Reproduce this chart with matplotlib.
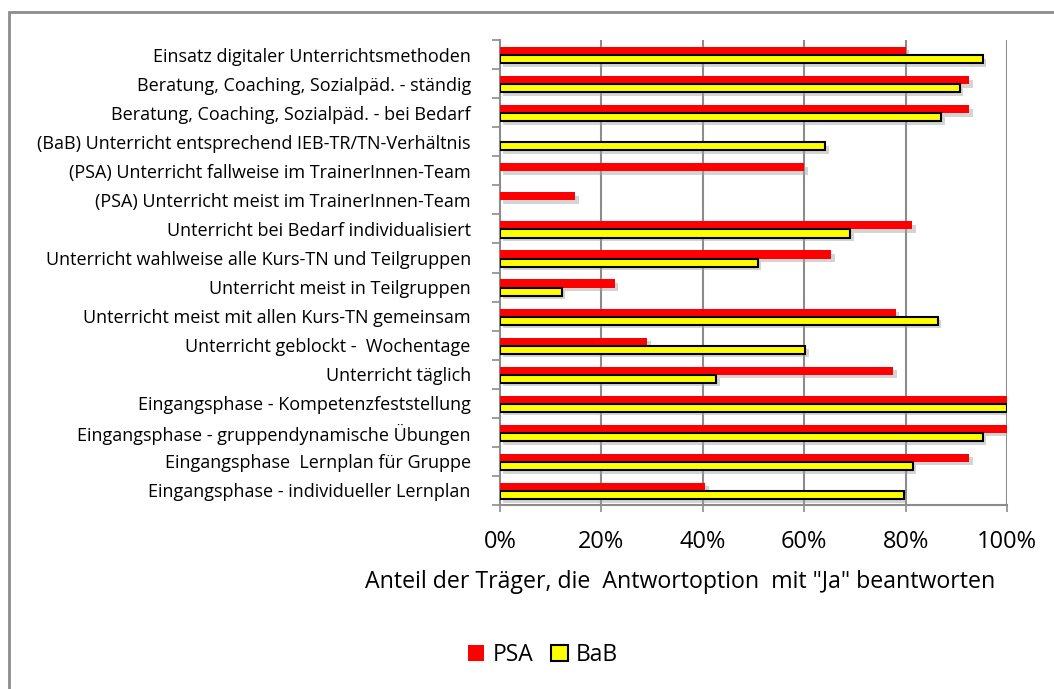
import numpy as np
import matplotlib
matplotlib.use("Agg")
import matplotlib.pyplot as plt
import matplotlib.patheffects as pe
from matplotlib.patches import Rectangle

plt.rcParams["font.family"] = ["Open Sans", "DejaVu Sans"]

# Top to bottom, as in the chart
CATEGORIES = [
    "Einsatz digitaler Unterrichtsmethoden",
    "Beratung, Coaching, Sozialpäd. - ständig",
    "Beratung, Coaching, Sozialpäd. - bei Bedarf",
    "(BaB) Unterricht entsprechend IEB-TR/TN-Verhältnis",
    "(PSA) Unterricht fallweise im TrainerInnen-Team",
    "(PSA) Unterricht meist im TrainerInnen-Team",
    "Unterricht bei Bedarf individualisiert",
    "Unterricht wahlweise alle Kurs-TN und Teilgruppen",
    "Unterricht meist in Teilgruppen",
    "Unterricht meist mit allen Kurs-TN gemeinsam",
    "Unterricht geblockt -  Wochentage",
    "Unterricht täglich",
    "Eingangsphase - Kompetenzfeststellung",
    "Eingangsphase - gruppendynamische Übungen",
    "Eingangsphase  Lernplan für Gruppe",
    "Eingangsphase - individueller Lernplan",
]
PSA = [0.80, 0.926, 0.926, np.nan, 0.60, 0.148, 0.813, 0.653, 0.226, 0.781,
       0.290, 0.776, 1.00, 1.00, 0.926, 0.405]
BAB = [0.952, 0.907, 0.870, 0.642, np.nan, np.nan, 0.691, 0.508, 0.122, 0.863,
       0.602, 0.427, 1.00, 0.952, 0.814, 0.796]
XTICKS = [0, 0.2, 0.4, 0.6, 0.8, 1.0]
XTICKLABELS = ["0%", "20%", "40%", "60%", "80%", "100%"]

GRID = "#8c8c8c"

fig = plt.figure(figsize=(10.54, 6.89), dpi=100)
ax = fig.add_axes([500 / 1054, 1 - 505 / 689, 507 / 1054, 465 / 689])

y = np.arange(len(CATEGORIES))
h = 0.28
shadow = [pe.SimplePatchShadow(offset=(2.5, -2.5), shadow_rgbFace="#a0a0a0", alpha=0.45),
          pe.Normal()]

psa = [v if not np.isnan(v) else 0 for v in PSA]
bab = [v if not np.isnan(v) else 0 for v in BAB]
bars_p = ax.barh(y - h / 2 + 0.02, psa, height=h, color="#ff0000", linewidth=0,
                 zorder=3)
bars_b = ax.barh(y + h / 2 + 0.02, bab, height=h, color="#ffff00",
                 edgecolor="black", linewidth=1.5, zorder=3)
for b, v in list(zip(bars_p, PSA)) + list(zip(bars_b, BAB)):
    if np.isnan(v):
        b.set_visible(False)
    else:
        b.set_path_effects(shadow)

ax.set_xlim(0, 1.0)
ax.set_ylim(len(CATEGORIES) - 0.5, -0.5)

for x in XTICKS[1:]:
    ax.axvline(x, color=GRID, linewidth=1.5, zorder=1)

ax.set_yticks(y)
ax.set_yticklabels(CATEGORIES, fontsize=13)
ax.set_yticks(np.arange(-0.5, len(CATEGORIES)), minor=True)
ax.tick_params(axis="y", which="major", length=0, pad=21)
ax.tick_params(axis="y", which="minor", length=6, width=1.2, color=GRID)
ax.set_xticks(XTICKS)
ax.set_xticklabels(XTICKLABELS, fontsize=17)
ax.tick_params(axis="x", length=5, width=1.2, color=GRID, pad=13)

for s in ("top", "right"):
    ax.spines[s].set_visible(False)
for s in ("left", "bottom"):
    ax.spines[s].set_color(GRID)
    ax.spines[s].set_linewidth(1.5)

fig.text(680 / 1054, 1 - 582 / 689,
         'Anteil der Träger, die  Antwortoption  mit "Ja" beantworten',
         fontsize=16.7, ha="center", va="center")

# outer chart border
fig.patches.append(Rectangle((9 / 1054, -0.1), 1.2, 1 - 12 / 689 + 0.1,
                             transform=fig.transFigure, fill=False,
                             edgecolor=GRID, linewidth=2))

handles = [Rectangle((0, 0), 1, 1, facecolor="#ff0000", linewidth=0),
           Rectangle((0, 0), 1, 1, facecolor="#ffff00", edgecolor="black",
                     linewidth=1.5)]
fig.legend(handles, ["PSA", "BaB"], loc="center", ncol=2,
           bbox_to_anchor=(543 / 1054, 1 - 655 / 689), frameon=False,
           fontsize=16.5, handlelength=0.7, handleheight=0.7, handletextpad=0.35,
           columnspacing=0.8)

fig.savefig("out.png", dpi=100)
